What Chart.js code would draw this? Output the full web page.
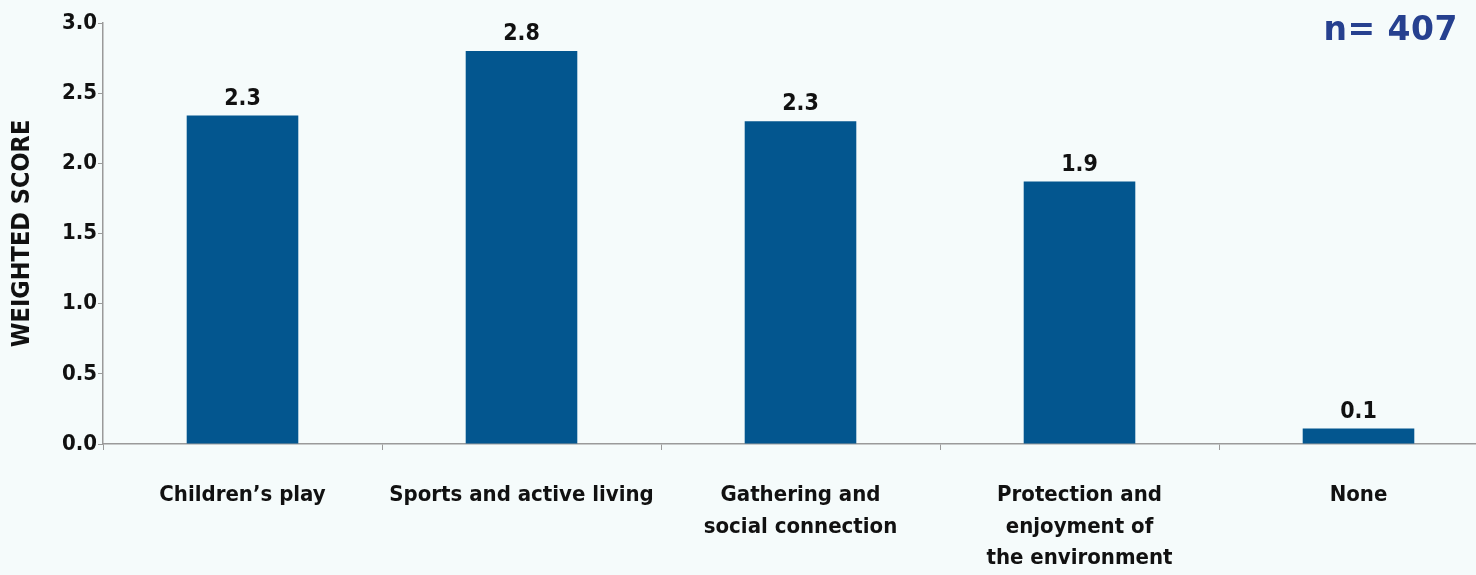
<!DOCTYPE html>
<html>
<head>
<meta charset="utf-8">
<script src="https://cdn.jsdelivr.net/npm/chart.js@4"></script>
<style>
  html, body { margin: 0; padding: 0; background: #f5fbfb; overflow: hidden; }
  #wrap { position: relative; width: 1476px; height: 575px; overflow: hidden; }
  #n-count {
    position: absolute; right: 18px; top: 9px;
    font-family: "DejaVu Sans", "Noto Sans", sans-serif; font-weight: bold;
    font-size: 33px; line-height: 40px; color: #26408f; letter-spacing: 0.5px;
  }
</style>
</head>
<body>
<div id="wrap">
  <canvas id="chart" width="1500" height="575"></canvas>
  <div id="n-count">n= 407</div>
</div>
<script>
// Weighted score by park use category
const categories = [
  "Children\u2019s play",
  "Sports and active living",
  ["Gathering and", "social connection"],
  ["Protection and", "enjoyment of", "the environment"],
  "None"
];
const scores = [2.34, 2.8, 2.3, 1.87, 0.11];
const yTicks = [0, 0.5, 1.0, 1.5, 2.0, 2.5, 3.0];

const FONT = "'Liberation Sans Narrow', 'DejaVu Sans Condensed', 'Roboto', sans-serif";
const BAR_COLOR = '#03568f';
const AXIS_COLOR = '#9a9a9a';

// Value printed above each bar, one decimal
const valueLabels = {
  id: 'valueLabels',
  afterDatasetsDraw(chart) {
    const ctx = chart.ctx;
    const meta = chart.getDatasetMeta(0);
    ctx.save();
    ctx.font = 'bold 23px ' + FONT;
    ctx.fillStyle = '#111';
    ctx.textAlign = 'center';
    ctx.textBaseline = 'middle';
    meta.data.forEach((bar, i) => {
      ctx.fillText(scores[i].toFixed(1), bar.x, bar.y - 17);
    });
    ctx.restore();
  }
};

new Chart(document.getElementById('chart').getContext('2d'), {
  type: 'bar',
  data: {
    labels: categories,
    datasets: [{
      data: scores,
      backgroundColor: BAR_COLOR,
      borderWidth: 0,
      barPercentage: 0.4,
      categoryPercentage: 1.0
    }]
  },
  options: {
    responsive: false,
    devicePixelRatio: 1,
    animation: false,
    layout: { padding: { top: 23, right: 2, left: 0, bottom: 0 } },
    plugins: {
      legend: { display: false },
      tooltip: { enabled: false }
    },
    scales: {
      x: {
        offset: true,
        grid: {
          display: true,
          drawOnChartArea: false,
          drawTicks: true,
          tickLength: 6,
          offset: true,
          color: AXIS_COLOR
        },
        border: { color: AXIS_COLOR, width: 1.5 },
        ticks: {
          color: '#111',
          padding: 30,
          maxRotation: 0,
          autoSkip: false,
          font: { family: FONT, size: 22, weight: 'bold', lineHeight: 1.42 }
        },
        afterFit(scale) { scale.height = 131; }
      },
      y: {
        min: 0,
        max: 3,
        afterBuildTicks(scale) { scale.ticks = yTicks.map(v => ({ value: v })); },
        grid: {
          display: true,
          drawOnChartArea: false,
          drawTicks: true,
          tickLength: 5,
          color: AXIS_COLOR
        },
        border: { color: AXIS_COLOR, width: 1.5 },
        ticks: {
          color: '#111',
          padding: 1,
          font: { family: FONT, size: 22, weight: 'bold' },
          callback: v => Number(v).toFixed(1)
        },
        title: {
          display: true,
          text: 'WEIGHTED SCORE',
          color: '#111',
          padding: { top: 7, bottom: 0 },
          font: { family: FONT, size: 25, weight: 'bold' }
        },
        afterFit(scale) { scale.width = 103; }
      }
    }
  },
  plugins: [valueLabels]
});
</script>
</body>
</html>
